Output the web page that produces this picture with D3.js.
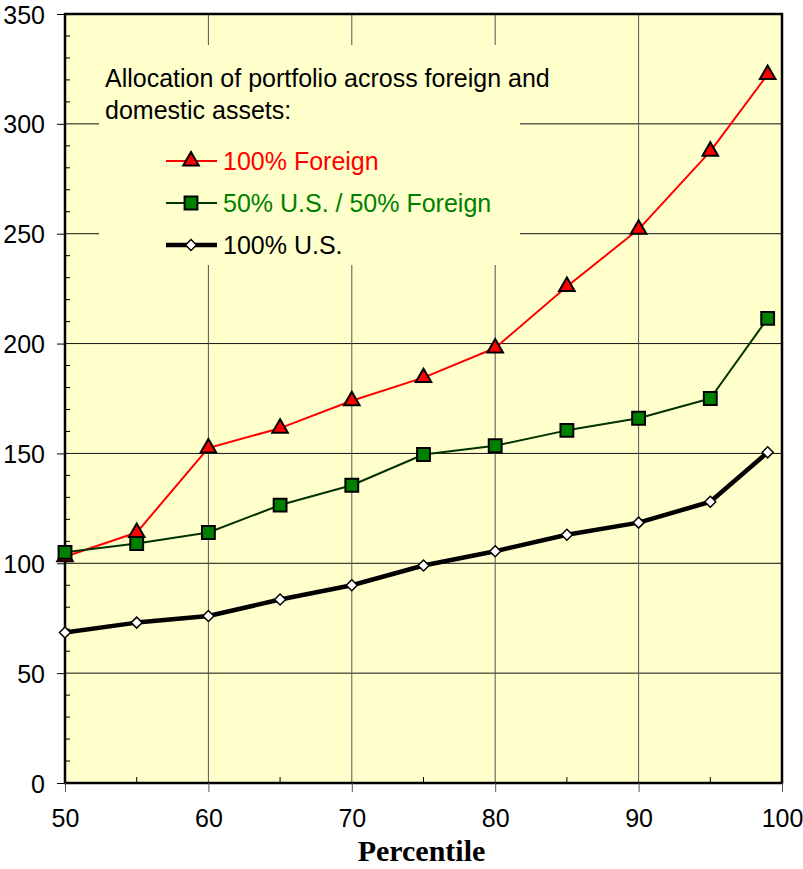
<!DOCTYPE html>
<html>
<head>
<meta charset="utf-8">
<script src="https://cdn.jsdelivr.net/npm/d3@7"></script>
<style>
  body { margin: 0; background: #fff; }
  svg { display: block; }
</style>
</head>
<body>
<div id="chart"></div>
<script>
// Data
var percentiles = [50, 55, 60, 65, 70, 75, 80, 85, 90, 95, 99]
var foreign100 = [103, 114, 152.5, 161.5, 174, 184.5, 198, 226, 252, 287.5, 322.5]
var mixed5050 = [105, 109, 114, 126.5, 135.5, 149.5, 153.5, 160.5, 166, 175, 211.5]
var us100 = [68.5, 73, 76, 83.5, 90, 99, 105.5, 113, 118.5, 128, 150.5]
var xTicks = [50, 60, 70, 80, 90, 100]
var yTicks = [0, 50, 100, 150, 200, 250, 300, 350]
var legendTitle = ['Allocation of portfolio across foreign and', 'domestic assets:']
var seriesNames = ['100% Foreign', '50% U.S. / 50% Foreign', '100% U.S.']

var W = 803, H = 869
var margin = {top: 14, right: 21, bottom: 86, left: 65}
var width = W - margin.left - margin.right
var height = H - margin.top - margin.bottom
var sans = 'Liberation Sans, Arial, sans-serif'

var x = d3.scaleLinear().domain([50, 100]).range([0, width])
var y = d3.scaleLinear().domain([0, 350]).range([height, 0])

var svg = d3.select('#chart').append('svg')
    .attr('width', W)
    .attr('height', H)
  .append('g')
    .attr('transform', 'translate(' + margin.left + ',' + margin.top + ')')

// Plot background
svg.append('rect')
  .attr('width', width)
  .attr('height', height)
  .style('fill', '#ffffcc')

// Gridlines
svg.selectAll('line.hgrid')
    .data(yTicks.slice(1, -1))
  .enter().append('line')
    .attr('class', 'hgrid')
    .attr('x1', 0).attr('x2', width)
    .attr('y1', function(d){ return y(d) }).attr('y2', function(d){ return y(d) })
    .style('stroke', '#111').style('stroke-width', 1)

svg.selectAll('line.vgrid')
    .data(xTicks.slice(1, -1))
  .enter().append('line')
    .attr('class', 'vgrid')
    .attr('x1', function(d){ return x(d) }).attr('x2', function(d){ return x(d) })
    .attr('y1', 0).attr('y2', height)
    .style('stroke', '#555').style('stroke-width', 1)

// Minor ticks (inside)
var yMinor = d3.range(0, 351, 10).filter(function(d){ return d % 50 !== 0 })
svg.selectAll('line.ymin')
    .data(yMinor)
  .enter().append('line')
    .attr('x1', 0).attr('x2', 5)
    .attr('y1', function(d){ return y(d) }).attr('y2', function(d){ return y(d) })
    .style('stroke', '#000')
var xMinor = [55, 65, 75, 85, 95]
svg.selectAll('line.xmin')
    .data(xMinor)
  .enter().append('line')
    .attr('x1', function(d){ return x(d) }).attr('x2', function(d){ return x(d) })
    .attr('y1', height).attr('y2', height - 6)
    .style('stroke', '#000')

// Legend box (covers the gridlines)
var lg = svg.append('g').attr('transform', 'translate(' + (99 - margin.left) + ',' + (45 - margin.top) + ')')
lg.append('rect')
  .attr('width', 421)
  .attr('height', 220)
  .style('fill', '#ffffcc')
lg.selectAll('text.title')
    .data(legendTitle)
  .enter().append('text')
    .attr('x', 6)
    .attr('y', function(d, i){ return 42 + i * 32 })
    .text(function(d){ return d })
    .attr('font-family', sans)
    .attr('font-size', '25px')
    .attr('fill', '#000')

// Frame
svg.append('rect')
  .attr('width', width)
  .attr('height', height)
  .style('fill', 'none')
  .style('stroke', '#000')
  .style('stroke-width', 2.5)

// Axes
var yAxis = svg.append('g')
  .call(d3.axisLeft(y).tickValues(yTicks).tickSize(8).tickPadding(12))
yAxis.select('.domain').remove()
yAxis.selectAll('text')
  .attr('font-family', sans)
  .attr('font-size', '25px')
  .attr('fill', '#000')
  .attr('dy', '0.36em')

var xAxis = svg.append('g')
  .attr('transform', 'translate(0,' + height + ')')
  .call(d3.axisBottom(x).tickValues(xTicks).tickSize(9).tickPadding(17))
xAxis.select('.domain').remove()
xAxis.selectAll('line').style('stroke', '#555')
xAxis.selectAll('text')
  .attr('font-family', sans)
  .attr('font-size', '25px')
  .attr('fill', '#000')

svg.append('text')
  .attr('x', width / 2 - 2)
  .attr('y', height + 78)
  .attr('text-anchor', 'middle')
  .text('Percentile')
  .attr('font-family', 'Liberation Serif, Times New Roman, serif')
  .attr('font-weight', 'bold')
  .attr('font-size', '30px')
  .attr('fill', '#000')

// Series
var series = [
  {name: seriesNames[0], values: foreign100, line: '#ff0000', lw: 2, marker: 'triangle', fill: '#ff0000', text: '#ff0000'},
  {name: seriesNames[1], values: mixed5050, line: '#003300', lw: 2, marker: 'square', fill: '#008000', text: '#008000'},
  {name: seriesNames[2], values: us100, line: '#000000', lw: 4.5, marker: 'diamond', fill: '#ffffff', text: '#000000'}
]

function markerPath(type) {
  if (type === 'triangle') return d3.symbol().type(d3.symbolTriangle).size(105)()
  if (type === 'square') return d3.symbol().type(d3.symbolSquare).size(165)()
  return 'M0,-5.5L5.5,0L0,5.5L-5.5,0Z'
}

var line = d3.line()
  .x(function(d, i){ return x(percentiles[i]) })
  .y(function(d){ return y(d) })

// Drawing order: U.S. first, then foreign, then the mix on top
;[series[2], series[0], series[1]].forEach(function(s){
  svg.append('path')
    .datum(s.values)
    .attr('d', line)
    .style('fill', 'none')
    .style('stroke', s.line)
    .style('stroke-width', s.lw)
    .style('stroke-linejoin', 'round')
  svg.selectAll(null)
      .data(s.values)
    .enter().append('path')
      .attr('d', markerPath(s.marker))
      .attr('transform', function(d, i){ return 'translate(' + x(percentiles[i]) + ',' + y(d) + ')' })
      .style('fill', s.fill)
      .style('stroke', '#000')
      .style('stroke-width', s.marker === 'diamond' ? 1.5 : 2)
})

// Legend entries
series.forEach(function(s, i){
  var ly = 116 + i * 42
  var g = lg.append('g').attr('transform', 'translate(0,' + ly + ')')
  g.append('line')
    .attr('x1', 67).attr('x2', 118)
    .attr('y1', 0).attr('y2', 0)
    .style('stroke', s.line)
    .style('stroke-width', s.lw)
  g.append('path')
    .attr('d', markerPath(s.marker))
    .attr('transform', 'translate(92,0)')
    .style('fill', s.fill)
    .style('stroke', '#000')
    .style('stroke-width', s.marker === 'diamond' ? 1.5 : 2)
  g.append('text')
    .attr('x', 124)
    .attr('y', 9)
    .text(s.name)
    .attr('font-family', sans)
    .attr('font-size', '25px')
    .attr('fill', s.text)
})
</script>
</body>
</html>
